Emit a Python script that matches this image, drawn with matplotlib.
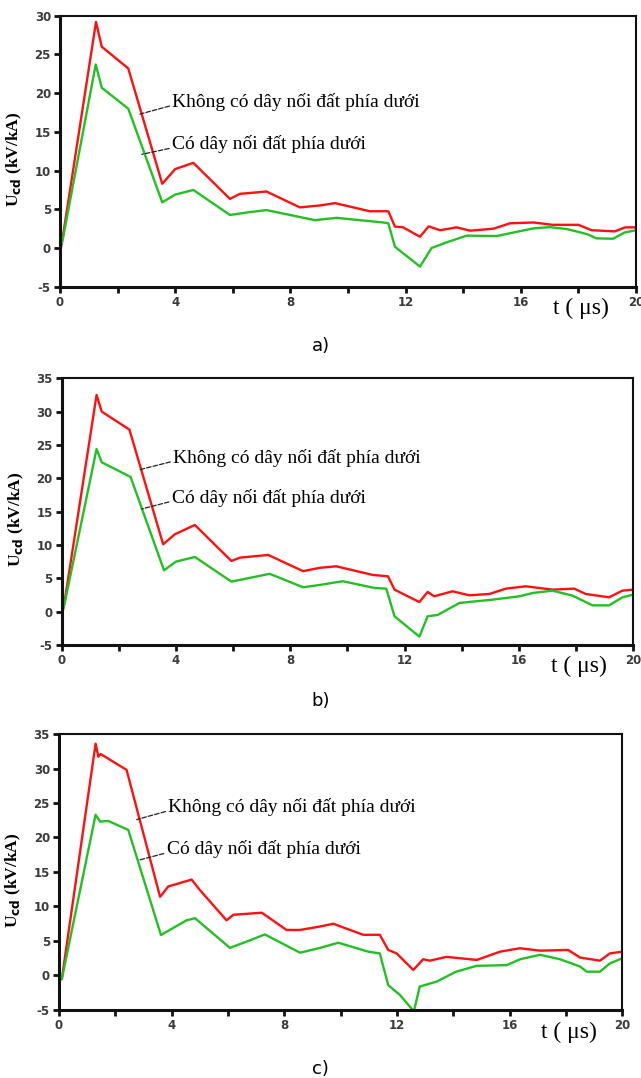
import numpy as np
import matplotlib
matplotlib.use('Agg')
import matplotlib.pyplot as plt

plt.rcParams['axes.unicode_minus'] = False

# panel a)
t_a_red = [0, 0.1, 1.25, 1.45, 2.37, 3.55, 4.0, 4.63, 5.9, 6.25, 7.17, 8.33, 9.03, 9.55, 10.76, 11.4,
           11.63, 11.9, 12.5, 12.8, 13.2, 13.77, 14.24, 15.05, 15.63, 16.44, 17.1, 18.0, 18.46, 19.27, 19.62, 20.0]
u_a_red = [-0.5, 1.5, 29.2, 26.0, 23.2, 8.3, 10.2, 11.0, 6.35, 7.0, 7.3, 5.25, 5.5, 5.8, 4.75, 4.75,
           2.76, 2.7, 1.46, 2.8, 2.3, 2.67, 2.24, 2.5, 3.2, 3.3, 3.0, 3.0, 2.3, 2.15, 2.67, 2.67]
t_a_green = [0, 0.1, 1.24, 1.45, 2.37, 3.55, 4.0, 4.63, 5.9, 6.5, 7.17, 8.85, 9.6, 11.22, 11.4, 11.63,
             12.5, 12.9, 13.42, 14.12, 15.16, 16.44, 17.0, 17.6, 18.3, 18.63, 19.2, 19.6, 20.0]
u_a_green = [-0.5, 1.2, 23.7, 20.7, 18.0, 5.9, 6.9, 7.5, 4.27, 4.6, 4.9, 3.6, 3.9, 3.3, 3.2, 0.17,
             -2.4, 0.0, 0.73, 1.6, 1.55, 2.54, 2.7, 2.45, 1.8, 1.25, 1.2, 2.0, 2.3]

# panel b)
t_b_red = [0, 0.1, 1.22, 1.4, 2.37, 3.55, 3.96, 4.66, 5.94, 6.24, 7.23, 8.45, 9.03, 9.61, 10.89, 11.42,
           11.65, 12.52, 12.81, 13.04, 13.68, 14.27, 14.97, 15.55, 16.24, 17.18, 17.94, 18.34, 19.16, 19.63, 20.0]
u_b_red = [-0.5, 1.5, 32.5, 30.0, 27.3, 10.1, 11.6, 13.0, 7.6, 8.1, 8.5, 6.07, 6.57, 6.8, 5.5, 5.3,
           3.3, 1.44, 2.95, 2.3, 3.05, 2.45, 2.65, 3.45, 3.8, 3.3, 3.45, 2.65, 2.15, 3.15, 3.3]
t_b_green = [0, 0.1, 1.22, 1.4, 2.41, 3.58, 4.0, 4.66, 5.94, 7.28, 8.45, 9.03, 9.84, 10.95, 11.36, 11.65,
             12.52, 12.81, 13.16, 13.92, 15.09, 16.02, 16.49, 17.18, 17.88, 18.58, 19.16, 19.63, 20.0]
u_b_green = [-0.5, 1.2, 24.4, 22.4, 20.2, 6.2, 7.5, 8.2, 4.5, 5.67, 3.65, 4.0, 4.56, 3.55, 3.45, -0.7,
             -3.75, -0.7, -0.5, 1.3, 1.8, 2.3, 2.8, 3.15, 2.4, 0.94, 0.94, 2.15, 2.55]

# panel c)
t_c_red = [0, 0.1, 1.3, 1.4, 1.48, 2.4, 3.59, 3.88, 4.71, 5.0, 5.95, 6.19, 7.2, 8.08, 8.56, 9.27, 9.74,
           10.8, 11.39, 11.69, 11.99, 12.58, 12.93, 13.17, 13.76, 14.83, 15.66, 16.37, 17.08, 18.08, 18.5,
           19.21, 19.56, 20.0]
u_c_red = [-0.2, -0.55, 33.6, 31.7, 32.1, 29.8, 11.4, 12.9, 13.9, 12.4, 8.0, 8.8, 9.1, 6.6, 6.6, 7.1, 7.5,
           5.9, 5.9, 3.7, 3.2, 0.8, 2.35, 2.15, 2.7, 2.25, 3.45, 3.95, 3.6, 3.7, 2.6,
           2.15, 3.2, 3.45]
t_c_green = [0, 0.1, 1.3, 1.46, 1.75, 2.46, 3.62, 4.53, 4.83, 6.07, 6.78, 7.31, 8.56, 9.27, 9.92, 10.98,
             11.39, 11.69, 12.1, 12.6, 12.81, 13.4, 14.1, 14.83, 15.9, 16.37, 17.08, 17.79, 18.5, 18.74,
             19.21, 19.56, 20.0]
u_c_green = [-0.2, -0.55, 23.3, 22.3, 22.4, 21.1, 5.87, 8.0, 8.3, 4.0, 5.1, 5.95, 3.3, 4.0, 4.75, 3.45,
             3.2, -1.4, -2.8, -5.2, -1.6, -0.9, 0.55, 1.4, 1.5, 2.35, 3.0, 2.35, 1.3, 0.55,
             0.55, 1.75, 2.5]

label_red = 'Không có dây nối đất phía dưới'
label_green = 'Có dây nối đất phía dưới'
captions = ['a)', 'b)', 'c)']
y_tops = [30, 35, 35]
x_ticks = [0, 2, 4, 6, 8, 10, 12, 14, 16, 18, 20]
x_ticklabels = ['0', '', '4', '', '8', '', '12', '', '16', '', '20']

panels = [
    (t_a_red, u_a_red, t_a_green, u_a_green),
    (t_b_red, u_b_red, t_b_green, u_b_green),
    (t_c_red, u_c_red, t_c_green, u_c_green),
]

# layout (figure fractions) and annotation anchors
rects = [[0.0936, 0.734, 0.8986, 0.2514],
         [0.0963, 0.4017, 0.8913, 0.2474],
         [0.092, 0.0631, 0.8788, 0.256]]
ann_red = [((2.78, 17.3), (3.9, 18.9)), ((2.74, 21.3), (3.9, 23.1)), ((2.76, 22.6), (3.88, 24.4))]
ann_green = [((2.84, 12.1), (3.89, 13.4)), ((2.8, 15.4), (3.85, 17.1)), ((2.82, 16.7), (3.82, 18.3))]
caption_y = [0.679, 0.3497, 0.0082]

fig = plt.figure(figsize=(6.41, 10.78), dpi=100)

for i, (tr, ur, tg, ug) in enumerate(panels):
    ax = fig.add_axes(rects[i])
    ax.plot(tr, ur, color='#ff1010', lw=1.7)
    ax.plot(tg, ug, color='#22c022', lw=1.7)
    ax.set_xlim(0, 20)
    ax.set_ylim(-5, y_tops[i])
    ax.set_xticks(x_ticks)
    ax.set_xticklabels(x_ticklabels)
    ax.set_yticks(np.arange(-5, y_tops[i] + 1, 5))
    ax.tick_params(direction='out', length=4.5, width=2, color='#111',
                   labelsize=8.5, labelcolor='#3a3a3a', pad=2)
    for lab in ax.get_xticklabels() + ax.get_yticklabels():
        lab.set_fontweight('bold')
    for side in ['left', 'bottom']:
        ax.spines[side].set_linewidth(2.2)
    for side in ['top', 'right']:
        ax.spines[side].set_linewidth(1.5)
    for sp in ax.spines.values():
        sp.set_color('#111')

    ax.set_ylabel(r'U$_{\mathbf{cd}}$ (kV/kA)', family='Liberation Serif', fontsize=12.5,
                  fontweight='bold')
    ax.yaxis.set_label_coords(-0.063, 0.47)
    ax.text(0.905, -0.08, 't ( μs)', transform=ax.transAxes, family='Liberation Serif',
            fontsize=17, ha='center', va='center')

    ax.annotate(label_red, xy=ann_red[i][0], xytext=ann_red[i][1], family='Liberation Serif',
                fontsize=14, va='center',
                arrowprops=dict(arrowstyle='-', linestyle='--', lw=0.9, color='#222',
                                relpos=(0, 0.3), shrinkA=0, shrinkB=0))
    ax.annotate(label_green, xy=ann_green[i][0], xytext=ann_green[i][1], family='Liberation Serif',
                fontsize=14, va='center',
                arrowprops=dict(arrowstyle='-', linestyle='--', lw=0.9, color='#222',
                                relpos=(0, 0.3), shrinkA=0, shrinkB=0))

    fig.text(0.5, caption_y[i], captions[i], fontsize=13, ha='center', va='center',
             family='DejaVu Sans')

plt.savefig('out.png', dpi=100)
